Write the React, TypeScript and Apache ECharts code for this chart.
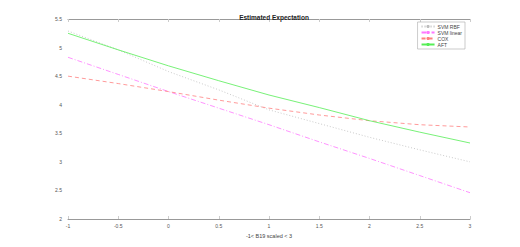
import React, { useEffect, useRef } from "react";
import * as echarts from "echarts";

const xs = [-1, -0.5, 0, 0.5, 1, 1.5, 2, 2.5, 3];
const svmRbf = [5.29, 4.96, 4.58, 4.26, 3.91, 3.67, 3.43, 3.21, 3.0];
const svmLinear = [4.83, 4.53, 4.23, 3.94, 3.65, 3.35, 3.06, 2.76, 2.46];
const cox = [4.5, 4.37, 4.23, 4.08, 3.94, 3.82, 3.72, 3.65, 3.61];
const aft = [5.25, 4.96, 4.68, 4.42, 4.17, 3.95, 3.72, 3.52, 3.33];
const seriesNames = ["SVM RBF", "SVM linear", "COX", "AFT"];

export default function App() {
  const ref = useRef<HTMLDivElement>(null);
  useEffect(() => {
    document.body.style.margin = "0";
    const chart = echarts.init(ref.current!, null, { renderer: "svg" });
    const pair = (ys: number[]) => xs.map((x, i) => [x, ys[i]]);
    const styles = [
      { color: "#bdbdbd", type: [1, 2] as any },
      { color: "#ff77ff", type: [5, 2, 1, 2] as any },
      { color: "#ff8080", type: [4, 3] as any },
      { color: "#55ee55", type: "solid" as any },
    ];
    const data = [svmRbf, svmLinear, cox, aft];
    const font = "Liberation Sans";
    chart.setOption({
      animation: false,
      textStyle: { fontFamily: font },
      title: {
        text: "Estimated Expectation",
        left: 269,
        textAlign: "center",
        top: 9,
        textStyle: { fontSize: 6.5, fontWeight: "bold", color: "#222", fontFamily: font },
      },
      grid: { left: 68, right: 50, top: 19, bottom: 28 },
      legend: {
        orient: "vertical",
        right: 55,
        top: 22,
        itemWidth: 13,
        itemHeight: 4,
        itemGap: 1,
        padding: [2, 3, 2, 3],
        borderColor: "#aaa",
        borderWidth: 0.6,
        textStyle: { fontSize: 5, color: "#444", fontFamily: font, padding: [0, 0, 0, -2] },
        data: seriesNames,
      },
      xAxis: [
        {
          type: "value",
          min: -1,
          max: 3,
          interval: 0.5,
          name: "-1< B19 scaled < 3",
          nameLocation: "middle",
          nameGap: 13,
          nameTextStyle: { fontSize: 5.5, color: "#444" },
          axisLine: { show: true, lineStyle: { color: "#999", width: 1 } },
          axisTick: { show: true, inside: true, length: 3, lineStyle: { color: "#ccc" } },
          axisLabel: { fontSize: 5, color: "#555", margin: 4 },
          splitLine: { show: false },
        },
        {
          type: "value",
          position: "top",
          min: -1,
          max: 3,
          interval: 0.5,
          axisLine: { show: true, lineStyle: { color: "#999", width: 1 } },
          axisTick: { show: true, inside: true, length: 3, lineStyle: { color: "#ccc" } },
          axisLabel: { show: false },
          splitLine: { show: false },
        },
      ],
      yAxis: {
        type: "value",
        min: 2,
        max: 5.5,
        interval: 0.5,
        axisLine: { show: false },
        axisTick: { show: false },
        axisLabel: { fontSize: 5, color: "#555", margin: 6 },
        splitLine: { show: false },
      },
      series: seriesNames.map((name, i) => ({
        name,
        type: "line",
        data: pair(data[i]),
        symbol: "none",
        smooth: false,
        color: styles[i].color,
        lineStyle: { color: styles[i].color, type: styles[i].type, width: 0.8 },
      })),
    });
    return () => chart.dispose();
  }, []);
  return <div ref={ref} style={{ width: 520, height: 247 }} />;
}
